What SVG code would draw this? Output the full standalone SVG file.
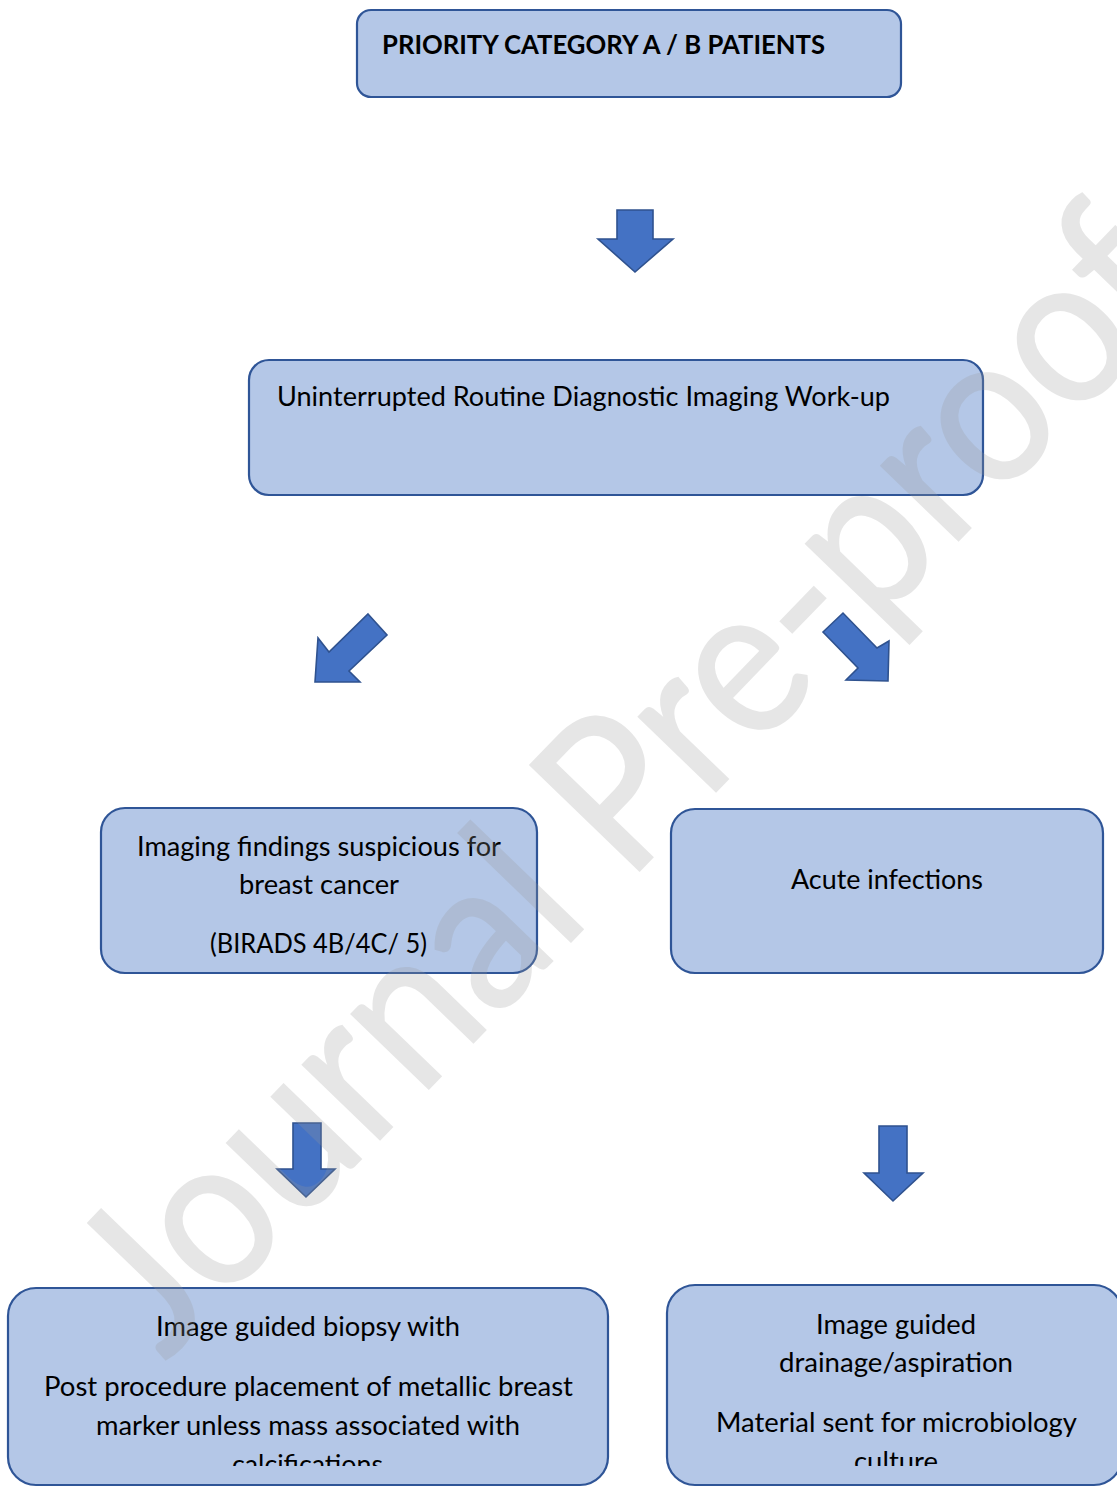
<svg xmlns="http://www.w3.org/2000/svg" width="1117" height="1487" viewBox="0 0 1117 1487">
<style>
.box{fill:#B4C7E7;stroke:#2F5597;stroke-width:2.2}
.arr{fill:#4472C4;stroke:#2F528F;stroke-width:1.6;stroke-linejoin:miter}
.t{font-family:Lato,"Open Sans","Liberation Sans",sans-serif;font-size:26px;fill:#000}
.b{font-weight:bold}
.wm{font-family:Lato,"Open Sans","Liberation Sans",sans-serif;font-size:212px;fill:#999;stroke:#999;stroke-width:2;opacity:0.24}
</style>
<defs>
<clipPath id="clipBottom"><rect x="0" y="0" width="1117" height="1466"/></clipPath>
</defs>
<rect width="1117" height="1487" fill="#fff"/>
<g id="connectors">
<polygon class="arr" points="617,210 653,210 653,239 673,239 635,272 598,239 617,239"/>
<polygon class="arr" points="368,614 387,635 349,671 360,682 315,682 318,638 329,652"/>
<polygon class="arr" points="823,632 843,613 877,648 889,641 888,681 846,680 858,668"/>
<polygon class="arr" points="293,1123 321,1123 321,1169 335,1169 306,1197 277,1169 293,1169"/>
<polygon class="arr" points="879,1126 907,1126 907,1173 923,1173 893,1201 864,1173 879,1173"/>
</g>
<g id="node-priority">
<rect class="box" x="357" y="10" width="544" height="87" rx="14"/>
<text class="t b" x="382" y="54" textLength="443" lengthAdjust="spacingAndGlyphs">PRIORITY CATEGORY A / B PATIENTS</text>
</g>
<g id="node-workup">
<rect class="box" x="249" y="360" width="734" height="135" rx="20"/>
<text class="t" x="277" y="406" textLength="613" lengthAdjust="spacingAndGlyphs">Uninterrupted Routine Diagnostic Imaging Work-up</text>
</g>
<g id="node-suspicious">
<rect class="box" x="101" y="808" width="436" height="165" rx="24"/>
<text class="t" x="137" y="856" textLength="364" lengthAdjust="spacingAndGlyphs">Imaging findings suspicious for</text>
<text class="t" x="239" y="894" textLength="160" lengthAdjust="spacingAndGlyphs">breast cancer</text>
<text class="t" x="210" y="953" textLength="217" lengthAdjust="spacingAndGlyphs">(BIRADS 4B/4C/ 5)</text>
</g>
<g id="node-infections">
<rect class="box" x="671" y="809" width="432" height="164" rx="24"/>
<text class="t" x="791" y="889" textLength="192" lengthAdjust="spacingAndGlyphs">Acute infections</text>
</g>
<g id="node-biopsy">
<rect class="box" x="8" y="1288" width="600" height="197" rx="28"/>
<g clip-path="url(#clipBottom)">
<text class="t" x="156" y="1336" textLength="304" lengthAdjust="spacingAndGlyphs">Image guided biopsy with</text>
<text class="t" x="44" y="1396" textLength="529" lengthAdjust="spacingAndGlyphs">Post procedure placement of metallic breast</text>
<text class="t" x="96" y="1435" textLength="424" lengthAdjust="spacingAndGlyphs">marker unless mass associated with</text>
<text class="t" x="232" y="1474" textLength="151" lengthAdjust="spacingAndGlyphs">calcifications</text>
</g>
</g>
<g id="node-drainage">
<rect class="box" x="667" y="1285" width="455" height="200" rx="28"/>
<g clip-path="url(#clipBottom)">
<text class="t" x="816" y="1334" textLength="160" lengthAdjust="spacingAndGlyphs">Image guided</text>
<text class="t" x="779" y="1372" textLength="234" lengthAdjust="spacingAndGlyphs">drainage/aspiration</text>
<text class="t" x="716" y="1432" textLength="361" lengthAdjust="spacingAndGlyphs">Material sent for microbiology</text>
<text class="t" x="854" y="1471" textLength="84" lengthAdjust="spacingAndGlyphs">culture</text>
</g>
</g>
<g id="watermark">
<text class="wm" transform="translate(165,1362) rotate(-46)" x="0" y="0" textLength="1480" lengthAdjust="spacingAndGlyphs">Journal Pre-proof</text>
</g>
</svg>
